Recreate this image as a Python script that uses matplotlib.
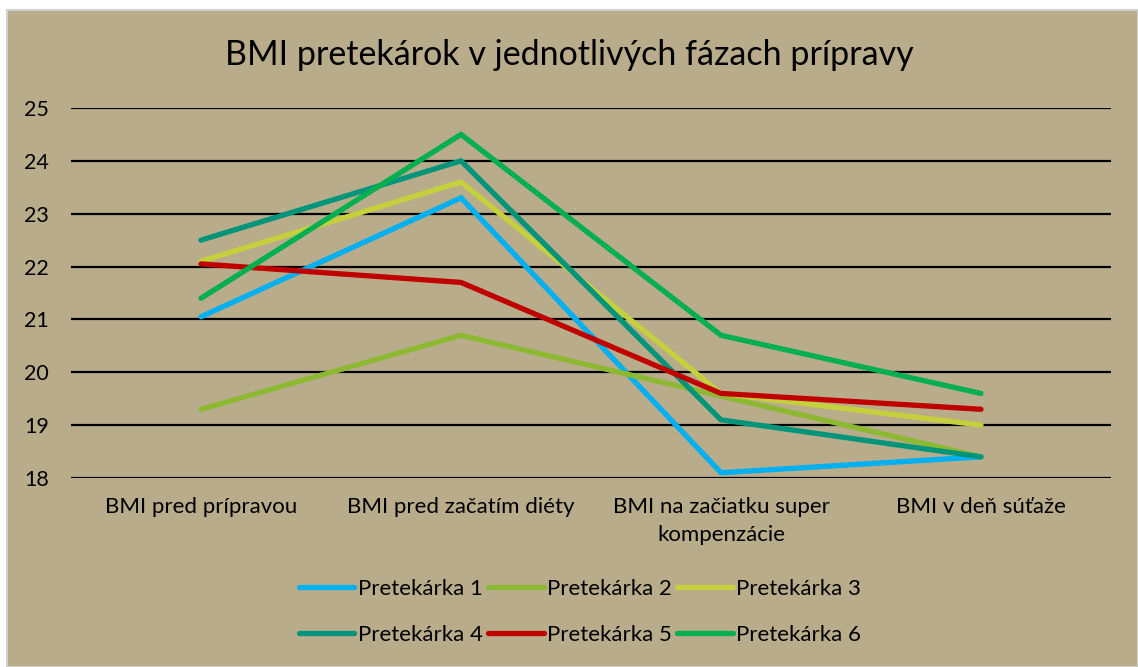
import matplotlib.pyplot as plt
from matplotlib.patches import Rectangle

categories = ['BMI pred prípravou', 'BMI pred začatím diéty',
              'BMI na začiatku super\nkompenzácie', 'BMI v deň súťaže']
series_names = ['Pretekárka 1', 'Pretekárka 2', 'Pretekárka 3',
                'Pretekárka 4', 'Pretekárka 5', 'Pretekárka 6']
p1 = [21.05, 23.3, 18.1, 18.4]
p2 = [19.3, 20.7, 19.55, 18.4]
p3 = [22.1, 23.6, 19.6, 19.0]
p4 = [22.5, 24.0, 19.1, 18.4]
p5 = [22.05, 21.7, 19.6, 19.3]
p6 = [21.4, 24.5, 20.7, 19.6]
yticks = [18, 19, 20, 21, 22, 23, 24, 25]

colors = ['#00B0F0', '#8DB832', '#C5D13C', '#00957A', '#C00000', '#00B050']
bg = '#B9AC8B'

plt.rcParams['font.family'] = ['Lato', 'DejaVu Sans']

fig = plt.figure(figsize=(11.38, 6.67), dpi=100)
fig.patch.set_facecolor('white')
fig.patches.append(Rectangle((7 / 1138, 0), 1 - 7 / 1138, 1 - 10 / 667,
                             transform=fig.transFigure, facecolor=bg,
                             edgecolor='#D0D0D0', linewidth=1.5, zorder=-10))

ax = fig.add_axes([71 / 1138, 1 - 478 / 667, (1111 - 71) / 1138, (478 - 108) / 667])
ax.patch.set_alpha(0)

x = range(len(categories))
lines = []
for name, vals, c in zip(series_names, [p1, p2, p3, p4, p5, p6], colors):
    ln, = ax.plot(x, vals, color=c, linewidth=3.8, label=name,
                  solid_capstyle='round', solid_joinstyle='miter', zorder=3)
    lines.append(ln)

ax.set_xlim(-0.5, 3.5)
ax.set_ylim(18, 25)
ax.set_yticks(yticks)
ax.set_xticks(list(x))
ax.set_xticklabels(categories, fontsize=16, linespacing=1.45)
ax.tick_params(axis='y', labelsize=15.5, length=0, pad=16)
ax.tick_params(axis='x', length=0, pad=14)
ax.grid(axis='y', color='black', linewidth=1.6)
ax.set_axisbelow(True)
for s in ax.spines.values():
    s.set_visible(False)

fig.text(0.5, 1 - 55 / 667, 'BMI pretekárok v jednotlivých fázach prípravy',
         ha='center', va='center', fontsize=24.5)

# matplotlib fills legend columns first; reorder so rows read 1-2-3 / 4-5-6
order = [0, 3, 1, 4, 2, 5]
fig.legend([lines[i] for i in order], [series_names[i] for i in order],
           loc='center', bbox_to_anchor=(580 / 1138, 1 - 612 / 667), ncol=3,
           frameon=False, fontsize=16, handlelength=2.5, handletextpad=0.15,
           columnspacing=0.25, labelspacing=1.15)

fig.savefig('out.png', dpi=100, facecolor=fig.get_facecolor())
